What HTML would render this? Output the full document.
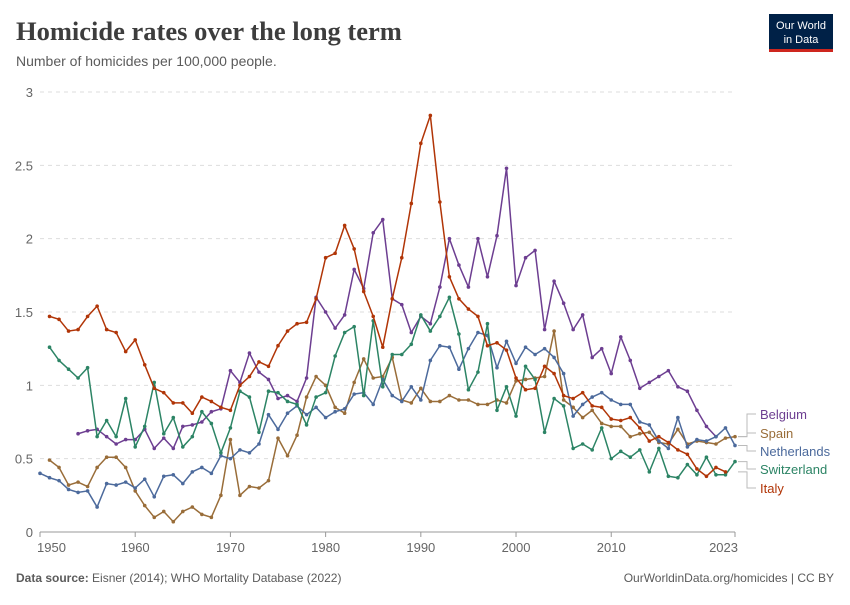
<!DOCTYPE html>
<html><head><meta charset="utf-8"><style>
body{margin:0;background:#fff;width:850px;height:600px;overflow:hidden;font-family:"Liberation Sans",sans-serif}
</style></head><body>
<svg id="chart" width="850" height="600" xmlns="http://www.w3.org/2000/svg">
<text x="16" y="40" font-family="Liberation Serif, serif" font-weight="bold" font-size="26.5" fill="#3d3d3d">Homicide rates over the long term</text>
<text x="16" y="66" font-size="14" fill="#5b5b5b">Number of homicides per 100,000 people.</text>
<g>
<rect x="769" y="14" width="64" height="36" fill="#002147"/>
<rect x="769" y="49" width="64" height="3" fill="#ce261e"/>
<text x="801" y="29" font-size="11" fill="#fff" text-anchor="middle">Our World</text>
<text x="801" y="43" font-size="11" fill="#fff" text-anchor="middle">in Data</text>
</g>
<g id="grid"></g>
<g id="series"></g>
<g id="legend"></g>
<text x="16" y="582" font-size="12" fill="#5b5b5b"><tspan font-weight="bold">Data source:</tspan> Eisner (2014); WHO Mortality Database (2022)</text>
<text x="834" y="582" font-size="12" fill="#5b5b5b" text-anchor="end">OurWorldinData.org/homicides | CC BY</text>
</svg>
<script>
const yTicks=[0,0.5,1,1.5,2,2.5,3];
const yTickLabels=["0","0.5","1","1.5","2","2.5","3"];
const xTicks=[1950,1960,1970,1980,1990,2000,2010,2023];
const seriesNames=["Belgium","Spain","Netherlands","Switzerland","Italy"];
const seriesStart=[1954,1951,1950,1951,1951];
const belgium=[0.67,0.69,0.70,0.65,0.60,0.63,0.63,0.70,0.57,0.64,0.57,0.72,0.73,0.75,0.82,0.84,1.10,1.02,1.22,1.09,1.04,0.91,0.93,0.89,1.05,1.60,1.50,1.39,1.48,1.79,1.66,2.04,2.13,1.59,1.55,1.36,1.47,1.42,1.67,2.00,1.82,1.67,2.00,1.74,2.02,2.48,1.68,1.87,1.92,1.38,1.71,1.56,1.38,1.48,1.19,1.25,1.08,1.33,1.17,0.98,1.02,1.06,1.10,0.99,0.96,0.83,0.72,0.65];
const spain=[0.49,0.44,0.32,0.34,0.31,0.44,0.51,0.51,0.44,0.28,0.18,0.10,0.14,0.07,0.14,0.17,0.12,0.10,0.25,0.63,0.25,0.31,0.30,0.35,0.64,0.52,0.66,0.92,1.06,1.00,0.85,0.81,1.02,1.18,1.05,1.06,1.19,0.90,0.88,0.98,0.89,0.89,0.93,0.90,0.90,0.87,0.87,0.90,0.88,1.03,1.04,1.05,1.06,1.37,0.90,0.85,0.78,0.83,0.74,0.72,0.72,0.65,0.67,0.68,0.61,0.60,0.70,0.60,0.62,0.61,0.60,0.64,0.65];
const netherlands=[0.40,0.37,0.35,0.29,0.27,0.28,0.17,0.33,0.32,0.34,0.30,0.36,0.24,0.38,0.39,0.33,0.41,0.44,0.40,0.52,0.50,0.56,0.54,0.60,0.80,0.70,0.81,0.86,0.80,0.85,0.78,0.82,0.84,0.94,0.95,0.87,1.04,0.93,0.89,0.99,0.90,1.17,1.27,1.26,1.11,1.25,1.36,1.34,1.12,1.30,1.15,1.26,1.21,1.25,1.19,1.08,0.79,0.87,0.92,0.95,0.90,0.87,0.87,0.75,0.73,0.62,0.57,0.78,0.58,0.63,0.62,0.65,0.71,0.59];
const switzerland=[1.26,1.17,1.11,1.05,1.12,0.65,0.76,0.65,0.91,0.58,0.72,1.02,0.67,0.78,0.58,0.65,0.82,0.74,0.54,0.71,0.96,0.92,0.68,0.96,0.95,0.89,0.87,0.73,0.92,0.95,1.20,1.36,1.40,0.93,1.44,0.99,1.21,1.21,1.28,1.48,1.37,1.47,1.60,1.35,0.97,1.09,1.42,0.83,0.99,0.79,1.13,1.04,0.68,0.91,0.86,0.57,0.60,0.56,0.71,0.50,0.55,0.51,0.56,0.41,0.57,0.38,0.37,0.46,0.39,0.51,0.39,0.39,0.48];
const italy=[1.47,1.45,1.37,1.38,1.47,1.54,1.38,1.36,1.23,1.31,1.14,0.98,0.95,0.88,0.88,0.81,0.92,0.89,0.85,0.83,1.00,1.06,1.16,1.13,1.27,1.37,1.42,1.43,1.59,1.87,1.90,2.09,1.93,1.64,1.47,1.26,1.59,1.87,2.24,2.65,2.84,2.25,1.74,1.59,1.52,1.47,1.27,1.29,1.24,1.05,0.97,0.98,1.13,1.08,0.93,0.91,0.95,0.86,0.85,0.77,0.76,0.78,0.71,0.62,0.65,0.61,0.56,0.53,0.43,0.38,0.44,0.41];
const seriesValues=[belgium,spain,netherlands,switzerland,italy];
const colors=["#6d3e91","#996d39","#4c6a9c","#2c8465","#b13507"];
const labelY=[414,433,451,469,488];
const X0=40,X1=735,Y0=532,Y1=92;
function xs(yr){return X0+(yr-1950)*(X1-X0)/(2023-1950);}
function ys(v){return Y0-(v-0)*(Y0-Y1)/3;}
const NS="http://www.w3.org/2000/svg";
function mk(tag,attrs,parent){const e=document.createElementNS(NS,tag);for(const k in attrs)e.setAttribute(k,attrs[k]);parent.appendChild(e);return e;}
const grid=document.getElementById('grid');
yTicks.forEach((t,i)=>{
  if(t>0){const l=mk('line',{x1:X0,x2:X1,y1:ys(t),y2:ys(t),stroke:'#ddd','stroke-dasharray':'4,4'},grid);
  
  }
  const tx=mk('text',{x:33,y:ys(t)+5,'text-anchor':'end','font-size':13,fill:'#666'},grid);
  tx.textContent=yTickLabels[i];
  
  
});
const ax=mk('line',{x1:X0,x2:X1,y1:Y0,y2:Y0,stroke:'#999'},grid);


xTicks.forEach((t,i)=>{
  const tk=mk('line',{x1:xs(t),x2:xs(t),y1:Y0,y2:Y0+5,stroke:'#999'},grid);
  
  
  let anchor='middle',x=xs(t);
  if(i===0){anchor='start';x=X0-3;}
  if(i===xTicks.length-1){anchor='end';x=X1+3;}
  const tx=mk('text',{x:x,y:Y0+20,'text-anchor':anchor,'font-size':13,fill:'#666'},grid);
  tx.textContent=t;
  
  
});
const sg=document.getElementById('series');
const lg=document.getElementById('legend');
seriesValues.forEach((vals,s)=>{
  const g=mk('g',{},sg);
  
  
  const pts=vals.map((v,i)=>[xs(seriesStart[s]+i),ys(v)]);
  const p=mk('polyline',{points:pts.map(p=>p.join(',')).join(' '),fill:'none',stroke:colors[s],'stroke-width':1.5,'stroke-linejoin':'round'},g);
  
  
  pts.forEach(pt=>{
    const c=mk('circle',{cx:pt[0],cy:pt[1],r:1.8,fill:colors[s]},g);
    
    
  });
  const last=pts[pts.length-1];
  const cn=mk('polyline',{points:`${X1+3},${last[1]} ${747},${last[1]} ${747},${labelY[s]} ${756},${labelY[s]}`,fill:'none',stroke:'#bbb','stroke-width':1},lg);
  
  
  const tx=mk('text',{x:760,y:labelY[s]+5,'font-size':13,fill:colors[s]},lg);
  tx.textContent=seriesNames[s];
  
  
});
</script>
</body></html>
